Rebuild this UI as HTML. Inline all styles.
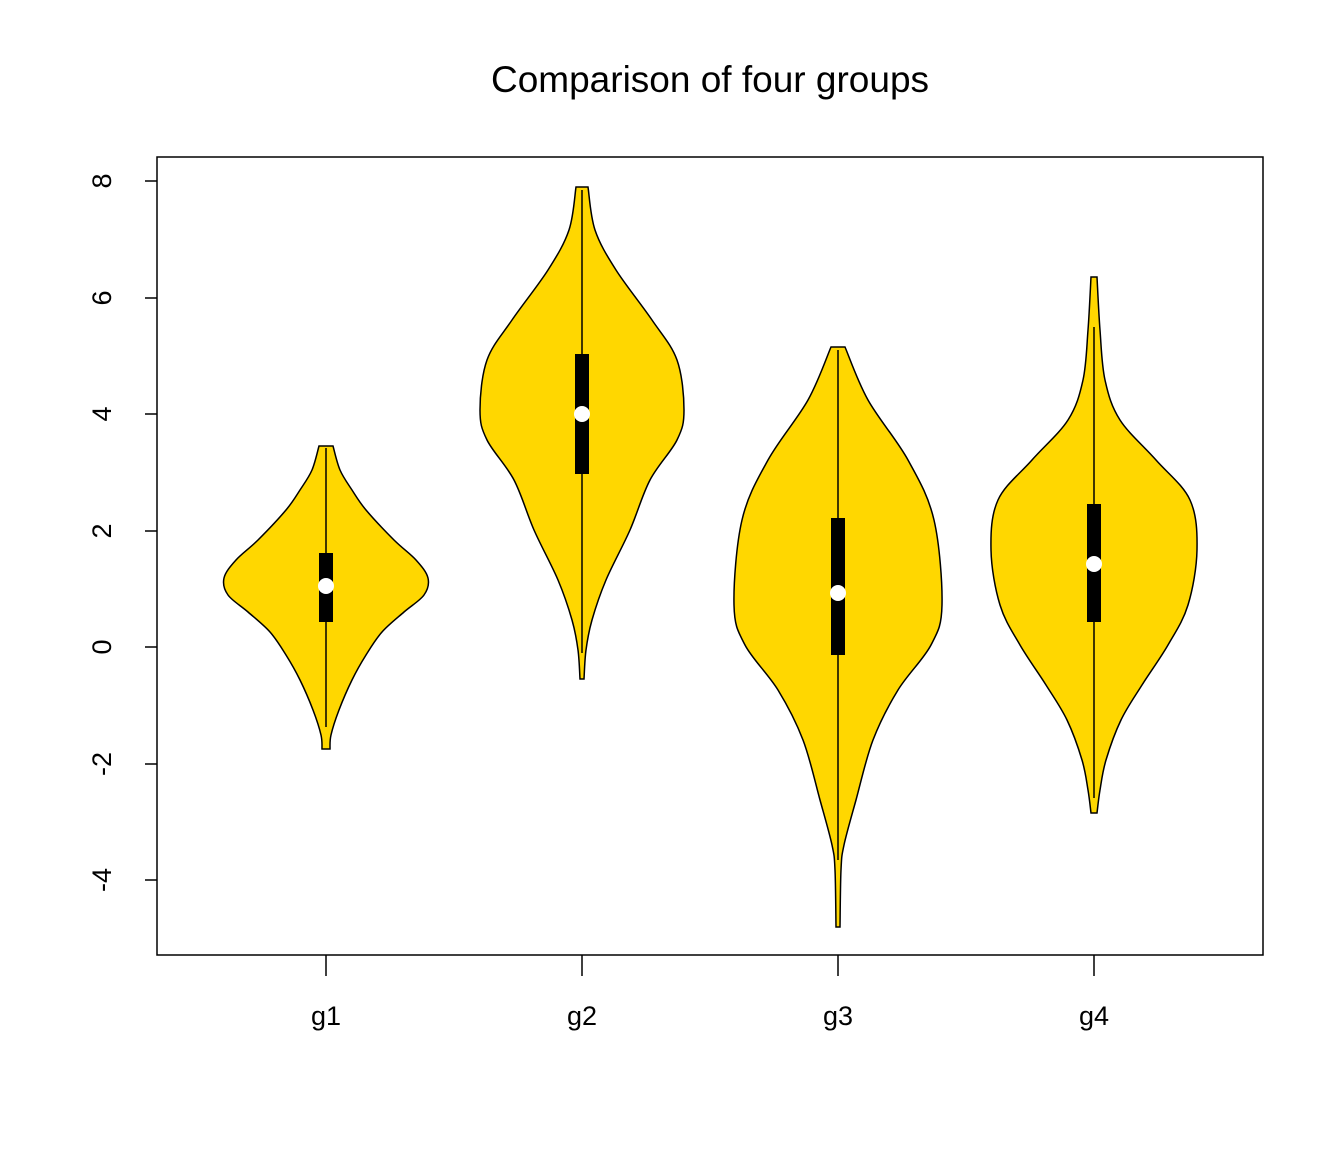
<!DOCTYPE html>
<html><head><meta charset="utf-8"><style>body{margin:0;background:#fff}svg{display:block}</style></head>
<body>
<svg id="s" width="1344" height="1152" xmlns="http://www.w3.org/2000/svg" font-family="Liberation Sans, sans-serif">
<rect width="1344" height="1152" fill="#fff"/>
<text x="710" y="92" font-size="37" text-anchor="middle">Comparison of four groups</text>
<g id="v"></g>
<rect x="157" y="157" width="1106" height="798" fill="none" stroke="#000" stroke-width="1.5"/>
<g stroke="#000" stroke-width="1.5">
<line x1="145" y1="181" x2="157" y2="181"/><line x1="145" y1="298" x2="157" y2="298"/>
<line x1="145" y1="414" x2="157" y2="414"/><line x1="145" y1="531" x2="157" y2="531"/>
<line x1="145" y1="647" x2="157" y2="647"/><line x1="145" y1="764" x2="157" y2="764"/>
<line x1="145" y1="880" x2="157" y2="880"/>
<line x1="326" y1="955" x2="326" y2="976"/><line x1="582" y1="955" x2="582" y2="976"/>
<line x1="838" y1="955" x2="838" y2="976"/><line x1="1094" y1="955" x2="1094" y2="976"/>
</g>
<g font-size="27" text-anchor="middle">
<text transform="translate(111,181) rotate(-90)">8</text>
<text transform="translate(111,298) rotate(-90)">6</text>
<text transform="translate(111,414) rotate(-90)">4</text>
<text transform="translate(111,531) rotate(-90)">2</text>
<text transform="translate(111,647) rotate(-90)">0</text>
<text transform="translate(111,764) rotate(-90)">-2</text>
<text transform="translate(111,880) rotate(-90)">-4</text>
<text x="326" y="1025">g1</text><text x="582" y="1025">g2</text>
<text x="838" y="1025">g3</text><text x="1094" y="1025">g4</text>
</g>
</svg>
<script>
const groups=[
{cx:326,pts:[[446,7],[470,14],[490,26],[510,40],[540,68],[560,90],[578,102],[595,98],[612,78],[632,56],[655,40],[680,26],[710,13],[735,5],[749,4]],box:[553,622],wh:[448,727],med:586},
{cx:582,pts:[[187,6],[230,13],[270,34],[320,70],[360,95],[410,102],[440,95],[480,68],[530,48],[580,24],[620,10],[650,4],[679,2]],box:[354,474],wh:[190,653],med:414},
{cx:838,pts:[[347,7],[400,30],[460,70],[520,96],[605,104],[645,93],[690,60],[740,35],[800,18],[845,6],[870,3],[927,2]],box:[518,655],wh:[350,860],med:593},
{cx:1094,pts:[[277,3],[330,6],[380,11],[420,26],[460,62],[500,96],[550,103],[605,94],[645,74],[685,48],[720,27],[760,12],[790,6],[813,3]],box:[504,622],wh:[327,798],med:564}];
function spline(p){let d="";for(let i=0;i<p.length-1;i++){const p0=p[Math.max(i-1,0)],p1=p[i],p2=p[i+1],p3=p[Math.min(i+2,p.length-1)];
const c1=[p1[0]+(p2[0]-p0[0])/6,p1[1]+(p2[1]-p0[1])/6],c2=[p2[0]-(p3[0]-p1[0])/6,p2[1]-(p3[1]-p1[1])/6];
d+=` C${c1[0]},${c1[1]} ${c2[0]},${c2[1]} ${p2[0]},${p2[1]}`;}return d;}
let h="";
for(const g of groups){
const R=g.pts.map(([y,w])=>[g.cx+w,y]);
const L=g.pts.slice().reverse().map(([y,w])=>[g.cx-w,y]);
let d=`M${L[L.length-1][0]},${L[L.length-1][1]} L${R[0][0]},${R[0][1]}`+spline(R)+` L${L[0][0]},${L[0][1]}`+spline(L)+"Z";
h+=`<path d="${d}" fill="#FFD700" stroke="#000" stroke-width="1.5"/>`;
h+=`<line x1="${g.cx}" y1="${g.wh[0]}" x2="${g.cx}" y2="${g.wh[1]}" stroke="#000" stroke-width="1.5"/>`;
h+=`<rect x="${g.cx-7}" y="${g.box[0]}" width="14" height="${g.box[1]-g.box[0]}" fill="#000"/>`;
h+=`<circle cx="${g.cx}" cy="${g.med}" r="8" fill="#fff"/>`;}
document.getElementById("v").innerHTML=h;
</script>
</body></html>
